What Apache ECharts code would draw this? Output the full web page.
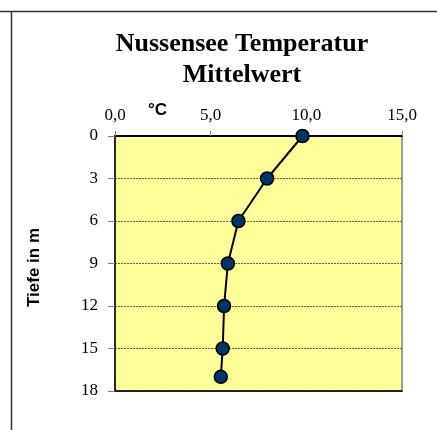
<!DOCTYPE html>
<html>
<head>
<meta charset="utf-8">
<script src="https://cdn.jsdelivr.net/npm/echarts@6/dist/echarts.min.js"></script>
<style>
  html, body { margin: 0; padding: 0; background: #fff; }
  #chart { width: 437px; height: 430px; }
</style>
</head>
<body>
<div id="chart"></div>
<script>
// Mean water temperature (°C) of the Nussensee by depth (m)
const depths = [0, 3, 6, 9, 12, 15, 17];
const temperatures = [9.8, 7.95, 6.45, 5.9, 5.7, 5.63, 5.53];
const tempTicks = [0, 5, 10, 15];
const depthTicks = [0, 3, 6, 9, 12, 15, 18];

const points = depths.map((d, i) => [temperatures[i], d]);
const serif = '"Liberation Serif", "Times New Roman", serif';
const sans = '"Liberation Sans", Arial, sans-serif';

const chart = echarts.init(document.getElementById('chart'), null, { renderer: 'canvas' });
chart.setOption({
  animation: false,
  backgroundColor: '#ffffff',
  title: {
    text: 'Nussensee Temperatur\nMittelwert',
    left: 237,
    textAlign: 'center',
    top: 24,
    textStyle: {
      fontFamily: serif,
      fontWeight: 'bold',
      fontSize: 26,
      lineHeight: 31,
      color: '#000'
    }
  },
  grid: {
    left: 115,
    right: 35,
    top: 136,
    bottom: 39,
    show: true,
    backgroundColor: '#ffff99',
    borderColor: '#a0a0a0',
    borderWidth: 2
  },
  xAxis: [{
    type: 'value',
    position: 'top',
    min: tempTicks[0],
    max: tempTicks[tempTicks.length - 1],
    interval: 5,
    axisLine: { show: true, onZero: false, lineStyle: { color: '#000', width: 2 } },
    axisTick: { show: true, inside: false, length: 5, lineStyle: { color: '#808080' } },
    axisLabel: {
      margin: 12,
      fontFamily: serif,
      fontSize: 17,
      color: '#000',
      formatter: v => v.toFixed(1).replace('.', ',')
    },
    splitLine: { show: false }
  }, {
    type: 'value',
    position: 'bottom',
    min: tempTicks[0],
    max: tempTicks[tempTicks.length - 1],
    axisLine: { show: true, onZero: false, lineStyle: { color: '#000', width: 1.5 } },
    axisTick: { show: false },
    axisLabel: { show: false },
    splitLine: { show: false }
  }],
  yAxis: {
    type: 'value',
    inverse: true,
    min: depthTicks[0],
    max: depthTicks[depthTicks.length - 1],
    interval: 3,
    name: 'Tiefe in m',
    nameLocation: 'middle',
    nameRotate: 90,
    nameGap: 72,
    nameTextStyle: { fontFamily: sans, fontWeight: 'bold', fontSize: 17, color: '#000', padding: [0, 8, 0, 0] },
    axisLine: { show: true, onZero: false, lineStyle: { color: '#000', width: 1.5 } },
    axisTick: { show: true, inside: false, length: 7, lineStyle: { color: '#808080' } },
    axisLabel: { margin: 17, fontFamily: serif, fontSize: 17, color: '#000' },
    splitLine: { show: true, lineStyle: { color: '#606060', type: [2, 1], width: 1 } }
  },
  series: [{
    type: 'line',
    xAxisIndex: 0,
    data: points,
    symbol: 'circle',
    symbolSize: 13,
    lineStyle: { color: '#000', width: 2 },
    itemStyle: { color: '#003366', borderColor: '#000', borderWidth: 1.5 },
    z: 5
  }],
  graphic: [
    { type: 'line', shape: { x1: 0, y1: 11.5, x2: 437, y2: 11.5 }, style: { stroke: '#333', lineWidth: 1.5 } },
    { type: 'line', shape: { x1: 11.5, y1: 11.5, x2: 11.5, y2: 430 }, style: { stroke: '#333', lineWidth: 1.5 } },
    {
      type: 'text', left: 148, top: 102,
      style: { text: '°C', fontFamily: sans, fontWeight: 'bold', fontSize: 17, fill: '#000' }
    }
  ]
});
</script>
</body>
</html>
